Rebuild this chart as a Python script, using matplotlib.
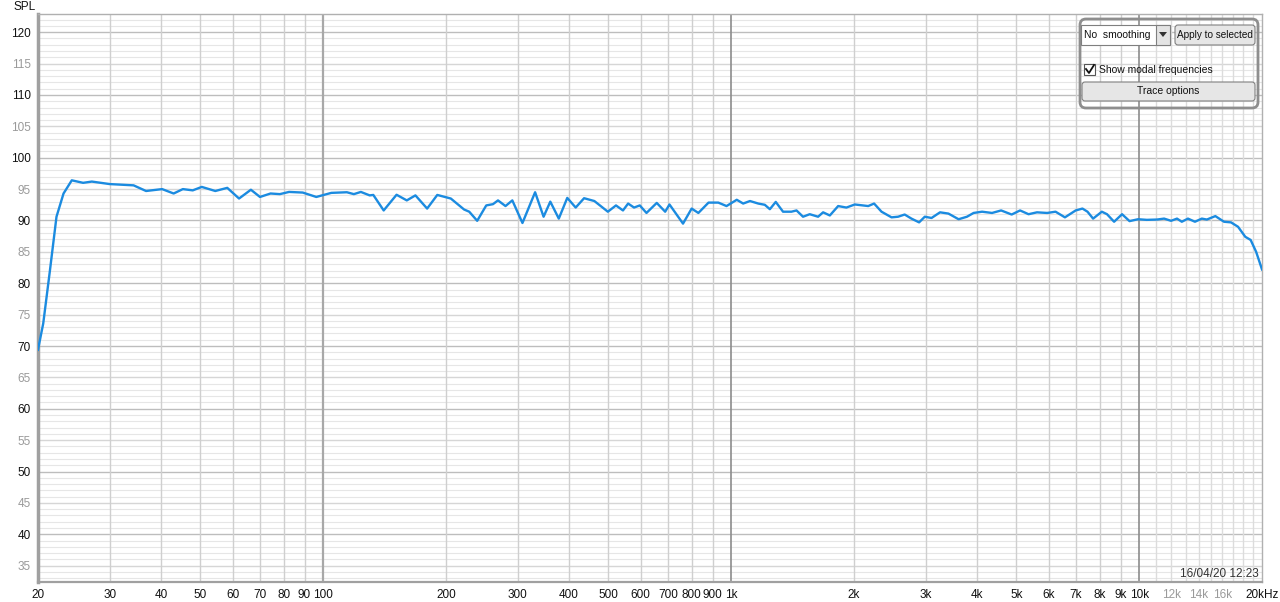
import matplotlib
matplotlib.use('Agg')
import matplotlib.pyplot as plt
from matplotlib.patches import FancyBboxPatch, Rectangle, Polygon

freq_hz = [20, 20.6, 21.4, 22.2, 23.1, 24.2, 25.8, 27.1, 30, 34.3, 36.8, 40.3, 43, 45.3,
           47.9, 50.4, 54.4, 58.2, 62.2, 66.5, 70, 74.3, 78.3, 82.5, 89.1, 96.2, 104.7,
           114.3, 118.9, 123.7, 130, 132.7, 140.7, 151.3, 160.3, 168.3, 179.8, 190.4, 205.5,
           221.5, 228, 238.5, 251, 260.7, 268.2, 279.8, 290.8, 307.9, 330.7, 346.9, 360.3,
           378, 396.5, 415.8, 436, 462, 498.6, 522, 543, 559, 578, 597, 620, 657, 689, 706,
           762, 800, 831, 880, 930, 974, 1032, 1070, 1112, 1165, 1209, 1244, 1286, 1340,
           1405, 1446, 1500, 1558, 1633, 1680, 1745, 1829, 1916, 2009, 2167, 2240, 2336,
           2472, 2565, 2662, 2766, 2888, 2982, 3098, 3250, 3408, 3609, 3784, 3928, 4120,
           4359, 4588, 4869, 5106, 5356, 5617, 5948, 6238, 6577, 6988, 7260, 7470, 7710,
           8100, 8340, 8680, 9080, 9470, 9940, 10440, 11060, 11510, 11970, 12380, 12720,
           13170, 13700, 14240, 14650, 15370, 16140, 16790, 17470, 18200, 18760, 19350, 20000]
spl_db = [69.4, 73.6, 82.1, 90.6, 94.3, 96.4, 96.0, 96.2, 95.8, 95.6, 94.7, 95.0, 94.3, 95.0,
          94.8, 95.35, 94.7, 95.2, 93.5, 94.9, 93.75, 94.3, 94.2, 94.55, 94.45, 93.75, 94.4,
          94.5, 94.2, 94.55, 94.0, 94.07, 91.6, 94.1, 93.2, 94.0, 91.9, 94.07, 93.5,
          91.75, 91.4, 89.95, 92.4, 92.6, 93.2, 92.3, 93.2, 89.6, 94.5, 90.6, 93.0,
          90.3, 93.6, 92.06, 93.55, 93.1, 91.4, 92.4, 91.6, 92.7, 92.06, 92.4, 91.2, 92.8, 91.4, 92.55,
          89.5, 91.9, 91.2, 92.85, 92.85, 92.3, 93.3, 92.7, 93.1, 92.7, 92.5, 91.8, 92.96, 91.4,
          91.4, 91.6, 90.6, 91.0, 90.6, 91.3, 90.8, 92.3, 92.06, 92.55, 92.3, 92.7, 91.4,
          90.5, 90.6, 90.95, 90.3, 89.7, 90.6, 90.4, 91.3, 91.1, 90.2, 90.6, 91.2, 91.4,
          91.2, 91.6, 90.95, 91.6, 91.0, 91.3, 91.2, 91.4, 90.5, 91.6, 91.9, 91.4, 90.3,
          91.4, 91.0, 89.8, 91.0, 89.9, 90.2, 90.1, 90.15, 90.3, 89.95, 90.3, 89.8,
          90.3, 89.8, 90.3, 90.15, 90.7, 89.8, 89.7, 89.0, 87.4, 86.9, 85.0, 82.2]

y_labels = list(range(35, 121, 5))
x_ticks = [20, 30, 40, 50, 60, 70, 80, 90, 100, 200, 300, 400, 500, 600, 700, 800, 900,
           1000, 2000, 3000, 4000, 5000, 6000, 7000, 8000, 9000, 10000, 12000, 14000, 16000, 20000]
x_tick_labels = ['20', '30', '40', '50', '60', '70', '80', '90', '100', '200', '300', '400',
                 '500', '600', '700', '800', '900', '1k', '2k', '3k', '4k', '5k', '6k', '7k',
                 '8k', '9k', '10k', '12k', '14k', '16k', '20kHz']
grey_labels = ['12k', '14k', '16k']

plt.rcParams['font.family'] = ['Liberation Sans', 'DejaVu Sans']

W, H = 1280, 602
fig = plt.figure(figsize=(W / 100, H / 100), dpi=100)
ax = fig.add_axes([38 / W, 1 - 582 / H, (1262 - 38) / W, (582 - 14) / H])
ax.set_xscale('log')
ax.set_xlim(20, 20000)
ax.set_ylim(32.4, 122.9)

# grid
for db in range(33, 123):
    if db % 10 == 0:
        c, lw = '#bdbdbd', 1.0
    elif db % 5 == 0:
        c, lw = '#d6d6d6', 1.0
    else:
        c, lw = '#e6e6e6', 0.8
    ax.axhline(db, color=c, lw=lw, zorder=1)

vlines = list(range(30, 100, 10)) + list(range(200, 1000, 100)) + \
    list(range(2000, 10000, 1000)) + list(range(11000, 20000, 1000))
for f in vlines:
    c = '#cfcfcf' if f <= 10000 else '#dcdcdc'
    ax.axvline(f, color=c, lw=1.0, zorder=1)
ax.axvline(100, color='#a8a8a8', lw=1.6, zorder=1)
ax.axvline(1000, color='#8c8c8c', lw=1.2, zorder=1)
ax.axvline(10000, color='#8c8c8c', lw=1.2, zorder=1)

ax.plot(freq_hz, spl_db, color='#1b8be0', lw=1.7, zorder=3, solid_joinstyle='round')

ax.set_yticks(y_labels)
ax.set_yticklabels([str(v) for v in y_labels])
for lab, v in zip(ax.get_yticklabels(), y_labels):
    lab.set_color('#111111' if v % 10 == 0 else '#9a9a9a')
ax.set_xticks(x_ticks)
ax.set_xticklabels(x_tick_labels)
ax.minorticks_off()
for lab in ax.get_xticklabels():
    lab.set_color('#9a9a9a' if lab.get_text() in grey_labels else '#111111')
ax.tick_params(length=0, labelsize=8.5, pad=5)

for s in ax.spines.values():
    s.set_color('#b0b0b0')
    s.set_linewidth(1.0)
ax.spines['left'].set_linewidth(2.5)
ax.spines['left'].set_color('#a0a0a0')
ax.spines['bottom'].set_linewidth(1.6)
ax.spines['bottom'].set_color('#a0a0a0')

# overlay in pixel coordinates for labels and control panel
ov = fig.add_axes([0, 0, 1, 1], facecolor='none')
ov.set_xlim(0, W)
ov.set_ylim(H, 0)
ov.axis('off')

ov.text(13, 7, 'SPL', fontsize=8.5, va='center', ha='left', color='#111111')
ov.text(1259, 574, '16/04/20 12:23', fontsize=8.5, va='center', ha='right', color='#333333')

ov.add_patch(FancyBboxPatch((1080, 19), 178, 89, boxstyle='round,pad=0,rounding_size=6',
                            fc='none', ec='#8e8e8e', lw=2))
# combo box
ov.add_patch(Rectangle((1081, 25), 89, 20, fc='white', ec='#7f7f7f', lw=0.8))
ov.add_patch(Rectangle((1156, 25), 14, 20, fc='#e4e4e4', ec='#7f7f7f', lw=0.8))
ov.add_patch(Polygon([(1159, 32), (1167, 32), (1163, 37)], closed=True, fc='#333333', ec='none'))
ov.text(1084, 35.5, 'No  smoothing', fontsize=7.5, va='center', ha='left', color='#111111')
# buttons
ov.add_patch(FancyBboxPatch((1175, 25), 80, 20, boxstyle='round,pad=0,rounding_size=3',
                            fc='#e6e6e6', ec='#808080', lw=0.8))
ov.text(1215, 35.5, 'Apply to selected', fontsize=7.2, va='center', ha='center', color='#111111')
ov.add_patch(FancyBboxPatch((1082, 82), 173, 19, boxstyle='round,pad=0,rounding_size=3',
                            fc='#e6e6e6', ec='#808080', lw=0.8))
ov.text(1168, 91.5, 'Trace options', fontsize=7.5, va='center', ha='center', color='#111111')
# checkbox
ov.add_patch(Rectangle((1084, 64), 11, 11, fc='white', ec='#555555', lw=0.8))
ov.plot([1086, 1089, 1094], [69, 73, 65], color='#111111', lw=1.3)
ov.text(1099, 70, 'Show modal frequencies', fontsize=7.5, va='center', ha='left', color='#111111')

fig.savefig('out.png', dpi=100, facecolor='white')
